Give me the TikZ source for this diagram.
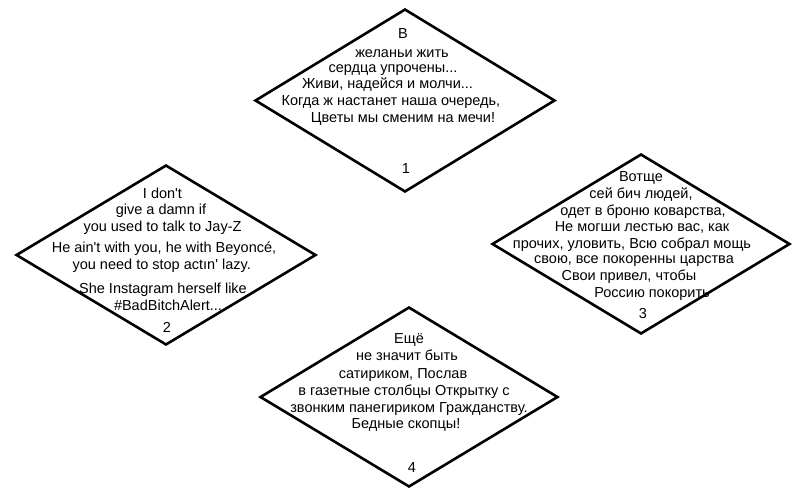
\documentclass[tikz,border=0pt]{standalone}
\usepackage{fontspec}
\setmainfont{Liberation Sans}
\usetikzlibrary{shapes.geometric}

\begin{document}
\begin{tikzpicture}
			[x=1pt,y=-1pt,every node/.style={inner sep=0pt,anchor=base,font=\fontsize{14.5}{17}\selectfont},
			rhomb/.style={diamond,anchor=center,draw=black,line width=2.6pt,inner sep=0pt,minimum width=300pt,minimum height=180pt}]
			\useasboundingbox[fill=white] (0,0) rectangle (800,496);

			\node[rhomb,minimum height=183pt] (d1) at (405,100.5) {};
			\node[rhomb] (d2) at (166,255) {};
			\node[rhomb,minimum width=298pt] (d3) at (641,244) {};
			\node[rhomb,minimum width=298pt] (d4) at (409,397) {};

			\foreach \x/\y/\t [count=\i] in {403/38/{В},402/57/{желаньи жить},393/72/{сердца упрочены...},
				387.5/88/{Живи, надейся и молчи...},391/105/{Когда ж настанет наша очередь,},403/122/{Цветы мы сменим на мечи!}}
			\node (a\i) at (\x,\y) {\t};
			\node (n1) at (406,173) {1};

			\foreach \x/\y/\t [count=\i] in {162.5/198/{I don\textquotesingle t},161/214/{give a damn if},162.5/231/{you used to talk to Jay-Z},
				164/252/{He ain\textquotesingle t with you, he with Beyoncé,},161.7/269/{you need to stop actın\textquotesingle\ lazy.},
				163/293/{She Instagram herself like},168/310/{\#BadBitchAlert...}}
			\node (b\i) at (\x,\y) {\t};
			\node (n2) at (167,332) {2};

			\foreach \x/\y/\t [count=\i] in {641/181/{Вотще},641/198/{сей бич людей,},643/215/{одет в броню коварства,},
				642/231/{Не могши лестью вас, как},632/248/{прочих, уловить, Всю собрал мощь},634/263/{свою, все покоренны царства},
				629/280/{Свои привел, чтобы},652/297/{Россию покорить}}
			\node (c\i) at (\x,\y) {\t};
			\node (n3) at (643,318) {3};

			\foreach \x/\y/\t [count=\i] in {409/343/{Ещё},407/360/{не значит быть},403/378/{сатириком, Послав},
				404/395/{в газетные столбцы Открытку с},409/412/{звонким панегириком Гражданству.},406/428/{Бедные скопцы!}}
			\node (e\i) at (\x,\y) {\t};
			\node (n4) at (412,472) {4};

			\end{tikzpicture}
\end{document}
